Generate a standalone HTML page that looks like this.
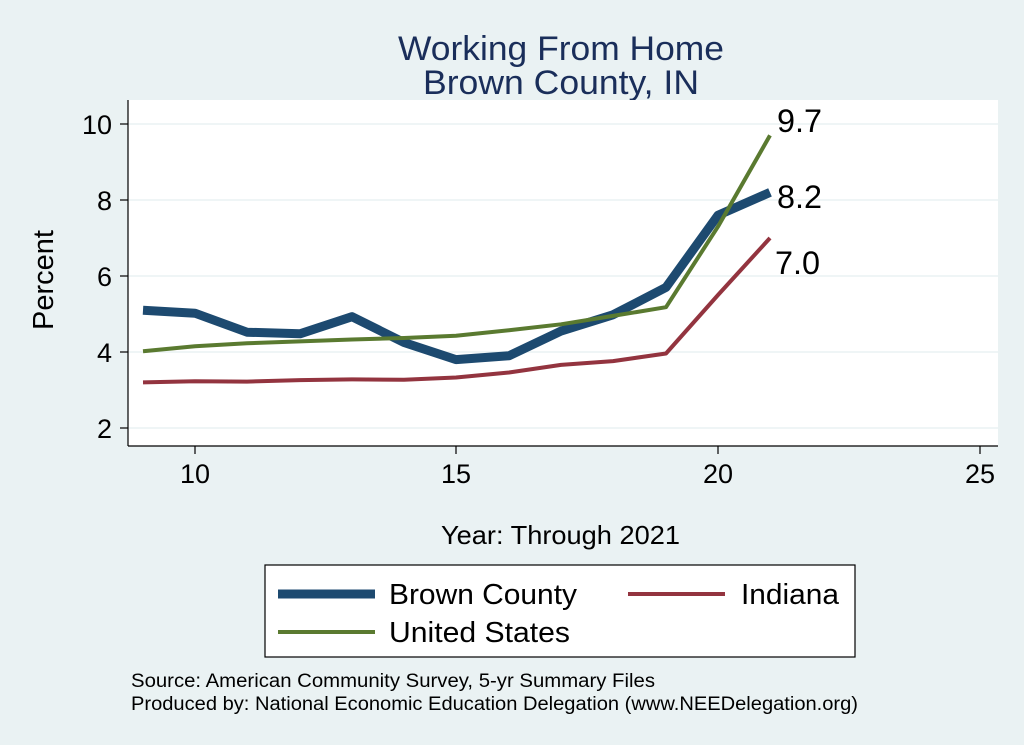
<!DOCTYPE html>
<html><head><meta charset="utf-8"><style>
body{margin:0;background:#EAF2F3;}
svg{display:block;font-family:"Liberation Sans",Arial,sans-serif;}
</style></head><body>
<svg width="1024" height="745" viewBox="0 0 1024 745">
<rect width="1024" height="745" fill="#EAF2F3"/>
<text x="398" y="60" font-size="34" fill="#1A2E5A" textLength="326" lengthAdjust="spacingAndGlyphs">Working From Home</text>
<text x="423" y="94" font-size="34" fill="#1A2E5A" textLength="276" lengthAdjust="spacingAndGlyphs">Brown County, IN</text>
<rect x="128" y="100" width="870" height="346" fill="#fff"/>
<g stroke="#EAF2F3" stroke-width="1.5">
<line x1="128" x2="998" y1="124" y2="124"/><line x1="128" x2="998" y1="200" y2="200"/>
<line x1="128" x2="998" y1="276" y2="276"/><line x1="128" x2="998" y1="352" y2="352"/>
<line x1="128" x2="998" y1="428" y2="428"/>
</g>
<g stroke="#000" stroke-width="1.2">
<line x1="128" x2="128" y1="100" y2="446"/><line x1="128" x2="998" y1="446" y2="446"/>
<line x1="120" x2="128" y1="124" y2="124"/><line x1="120" x2="128" y1="200" y2="200"/>
<line x1="120" x2="128" y1="276" y2="276"/><line x1="120" x2="128" y1="352" y2="352"/>
<line x1="120" x2="128" y1="428" y2="428"/>
<line x1="195" x2="195" y1="446" y2="454"/><line x1="456" x2="456" y1="446" y2="454"/>
<line x1="718" x2="718" y1="446" y2="454"/><line x1="980" x2="980" y1="446" y2="454"/>
</g>
<g font-size="27" fill="#000" text-anchor="end">
<text x="112" y="134">10</text><text x="112" y="210">8</text><text x="112" y="286">6</text>
<text x="112" y="362">4</text><text x="112" y="438">2</text>
</g>
<g font-size="27" fill="#000" text-anchor="middle">
<text x="195" y="483">10</text><text x="456" y="483">15</text><text x="718" y="483">20</text><text x="980" y="483">25</text>
</g>
<text transform="translate(53,280) rotate(-90)" font-size="29" text-anchor="middle">Percent</text>
<text x="441" y="544" font-size="26" textLength="239" lengthAdjust="spacingAndGlyphs">Year: Through 2021</text>
<polyline fill="none" stroke="#93343F" stroke-width="4" stroke-linejoin="round" points="143,382.4 195,381.3 247,381.6 300,380.1 352,379.4 404,379.7 456,377.5 509,372.5 561,364.9 613,361.1 666,353.5 718,295 770,238"/>
<polyline fill="none" stroke="#1D4A70" stroke-width="9" stroke-linejoin="round" points="143,310.2 195,313.2 247,332.2 300,333.8 352,316.7 404,342.5 456,359.6 509,355.8 561,331.1 613,314.8 666,287.4 718,215.2 770,192.4"/>
<polyline fill="none" stroke="#5A7A30" stroke-width="4" stroke-linejoin="round" points="143,351.2 195,346.3 247,343.3 300,341.4 352,339.5 404,338 456,335.7 509,330.3 561,324.3 613,315.9 666,307.2 718,226.6 770,135.4"/>
<g font-size="32" fill="#000">
<text x="777" y="132" textLength="45" lengthAdjust="spacingAndGlyphs">9.7</text><text x="777" y="208" textLength="45" lengthAdjust="spacingAndGlyphs">8.2</text><text x="775" y="274" textLength="45" lengthAdjust="spacingAndGlyphs">7.0</text>
</g>
<rect x="265" y="565" width="590" height="92" fill="#fff" stroke="#000" stroke-width="1.2"/>
<line x1="278" x2="375" y1="594" y2="594" stroke="#1D4A70" stroke-width="9"/>
<text x="389" y="604" font-size="29" textLength="188" lengthAdjust="spacingAndGlyphs">Brown County</text>
<line x1="628" x2="725" y1="594" y2="594" stroke="#93343F" stroke-width="4"/>
<text x="741" y="604" font-size="29" textLength="98" lengthAdjust="spacingAndGlyphs">Indiana</text>
<line x1="278" x2="375" y1="632" y2="632" stroke="#5A7A30" stroke-width="4"/>
<text x="389" y="642" font-size="29" textLength="181" lengthAdjust="spacingAndGlyphs">United States</text>
<text x="131" y="687" font-size="19" textLength="524" lengthAdjust="spacingAndGlyphs">Source: American Community Survey, 5-yr Summary Files</text>
<text x="131" y="710" font-size="19" textLength="727" lengthAdjust="spacingAndGlyphs">Produced by: National Economic Education Delegation (www.NEEDelegation.org)</text>
</svg>
</body></html>
